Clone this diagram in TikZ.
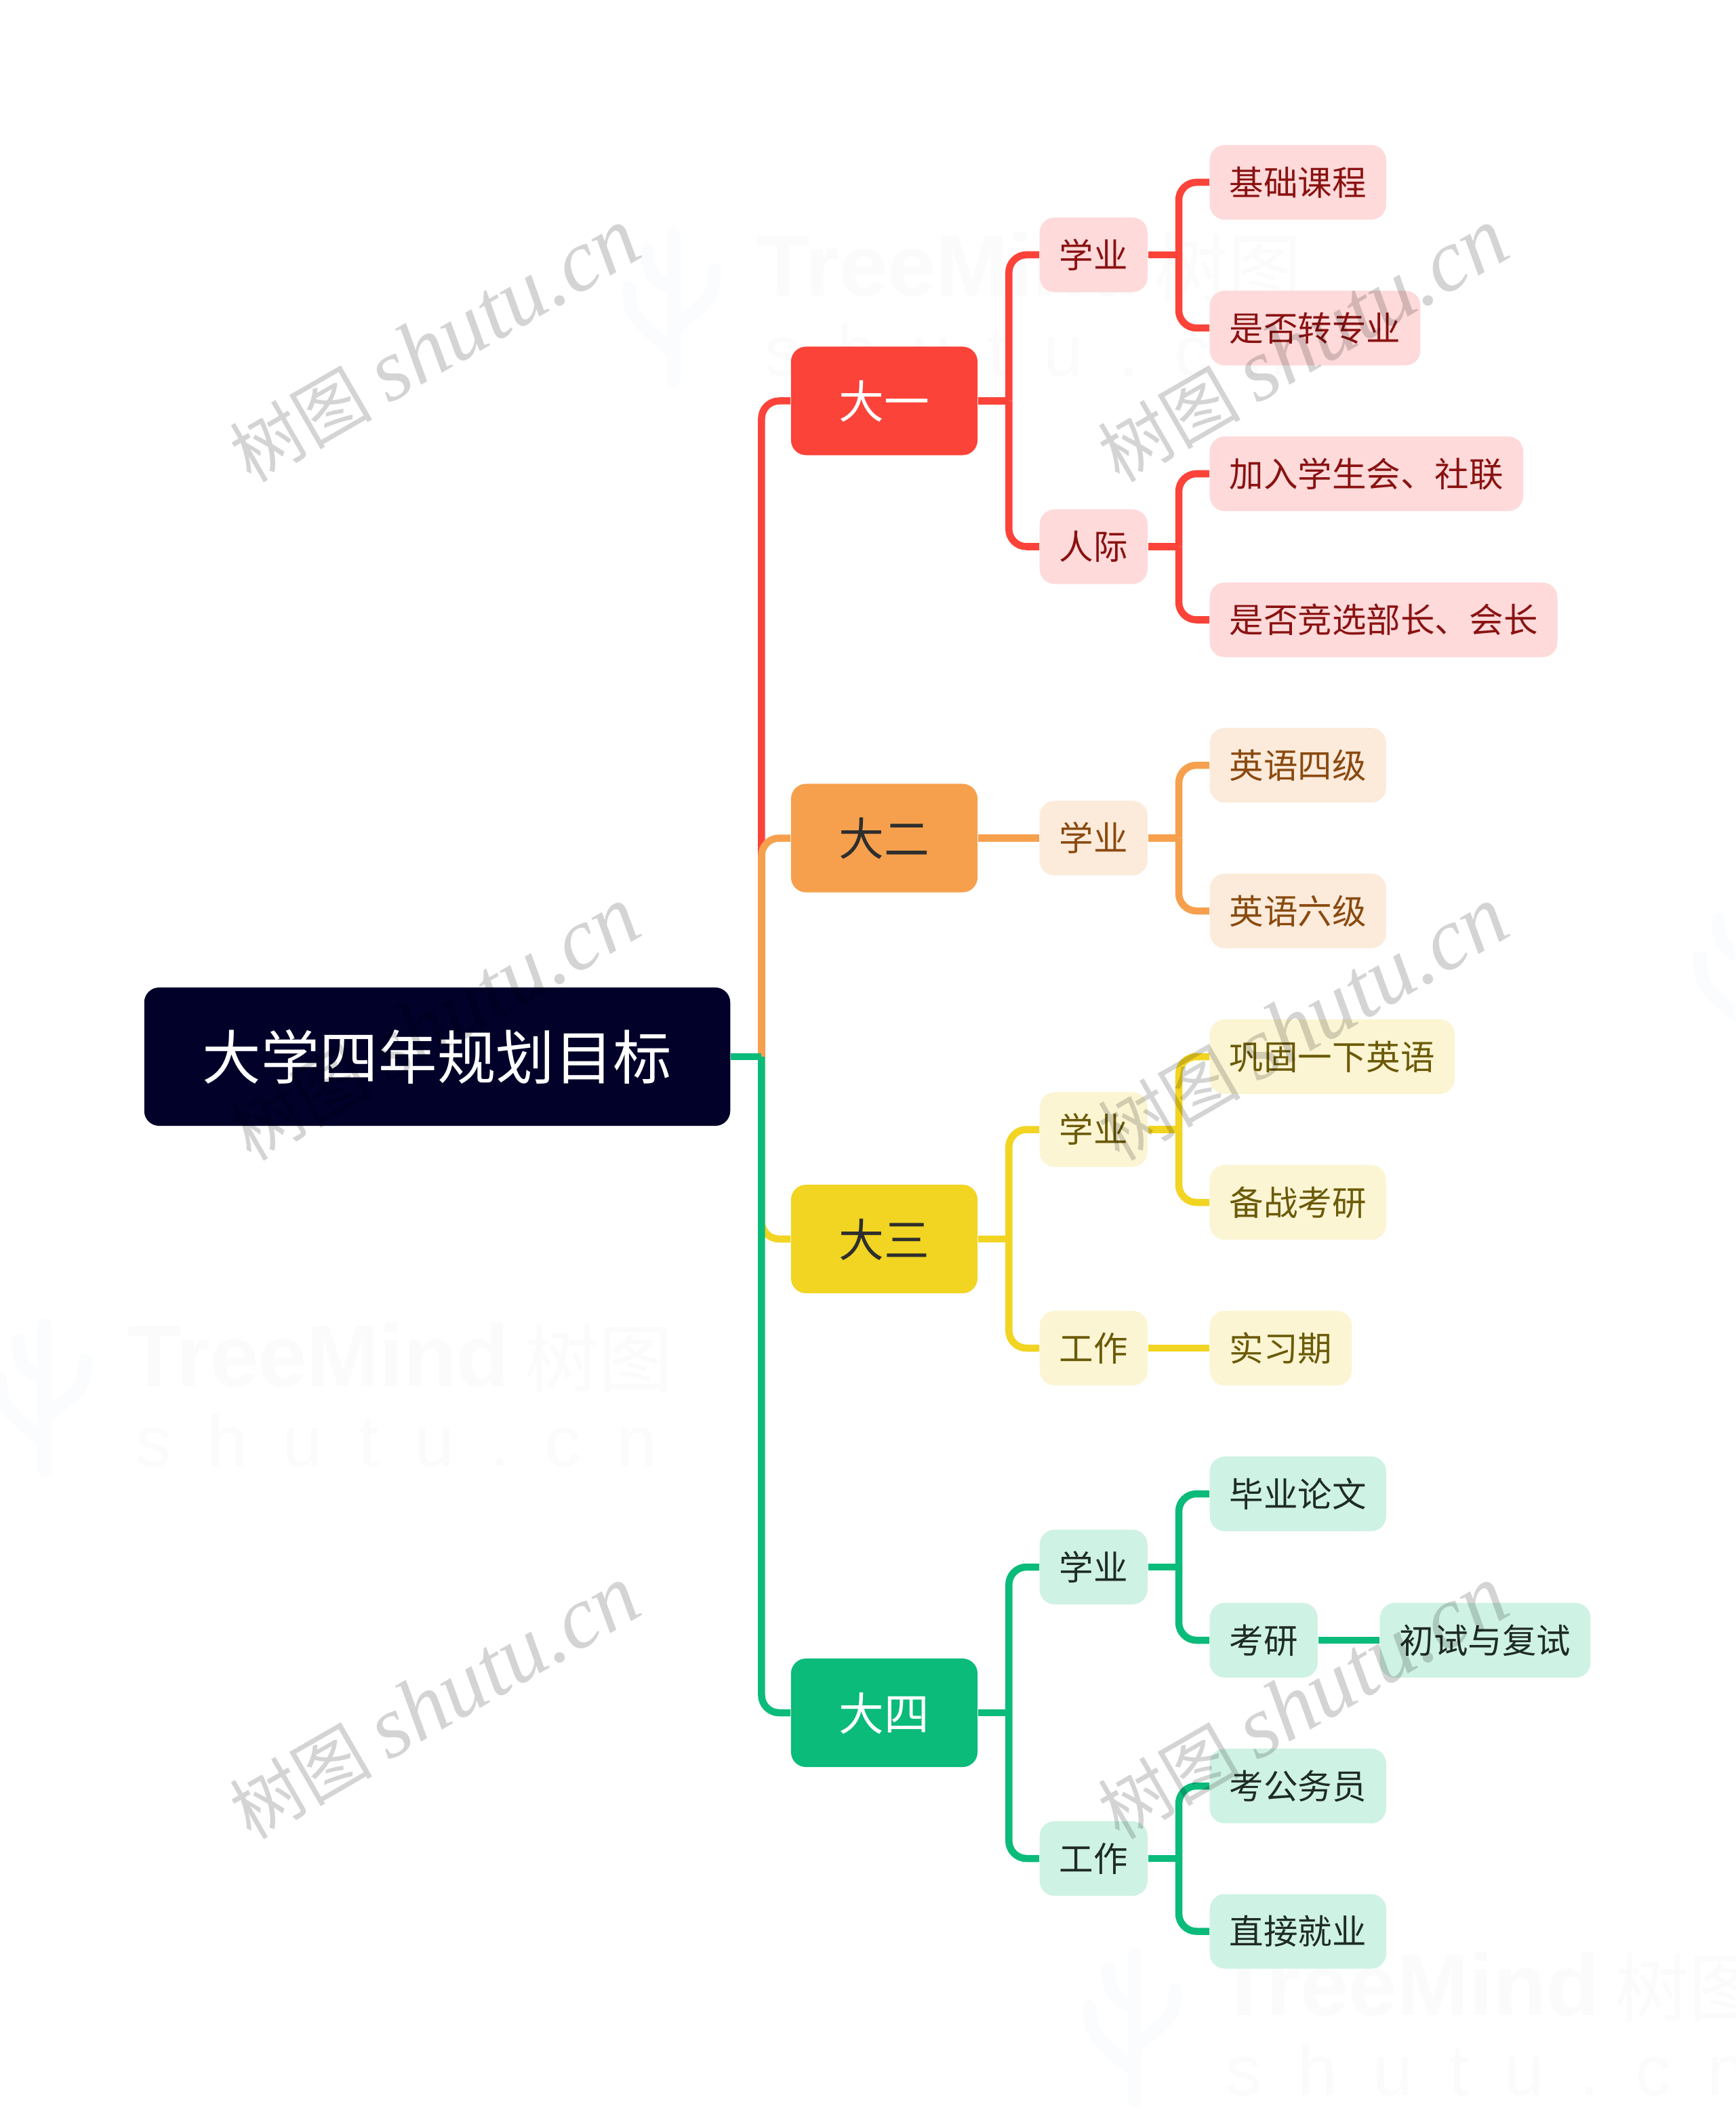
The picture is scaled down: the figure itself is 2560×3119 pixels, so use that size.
\documentclass[tikz,border=0pt]{standalone}
\usepackage{fontspec}
\usepackage{xcolor}
\setmainfont{Noto Sans CJK SC}
\newfontfamily\marksans{Liberation Sans}
\newfontfamily\markserif{Liberation Serif}
\usetikzlibrary{positioning,calc}

\definecolor{rootnavy}{HTML}{01012A}
\definecolor{redline}{HTML}{FB4339}
\definecolor{redsoft}{HTML}{FEDADA}
\definecolor{redtext}{HTML}{8A1212}
\definecolor{orangeline}{HTML}{F6A04D}
\definecolor{orangesoft}{HTML}{FCEBDB}
\definecolor{orangetext}{HTML}{8A4A10}
\definecolor{yellowline}{HTML}{F2D422}
\definecolor{yellowsoft}{HTML}{FCF5D3}
\definecolor{yellowtext}{HTML}{6B5A08}
\definecolor{greenline}{HTML}{0ABB7A}
\definecolor{greensoft}{HTML}{CEF2E3}
\definecolor{greentext}{HTML}{1E2B26}
\definecolor{darktext}{HTML}{2E2E2E}
\definecolor{marktext}{HTML}{FBFBFB}
\definecolor{marklogo}{HTML}{FBFCFE}

\tikzset{
    rootnode/.style={fill=rootnavy, text=white, rounded corners=0.22cm, inner sep=0pt,
        minimum width=8.64cm, minimum height=2.04cm, text height=0.765cm, text depth=0.105cm,
        font=\fontsize{24.6}{28}\selectfont},
    yearnode/.style 2 args={fill=#1, text=#2, rounded corners=0.22cm, inner sep=0pt,
        minimum width=2.75cm, minimum height=1.6cm, text height=0.6cm, text depth=0.08cm,
        font=\fontsize{19}{22}\selectfont},
    itemnode/.style 2 args={fill=#1, text=#2, rounded corners=0.22cm, inner ysep=0pt, inner xsep=0.29cm,
        minimum height=1.1cm, text height=0.444cm, text depth=0.06cm,
        font=\fontsize{14.37}{17}\selectfont},
    link/.style={draw=#1, line width=0.105cm},
    faintbig/.style={text=marktext, inner sep=0pt, anchor=base west},
    greymark/.style={text=black, text opacity=0.17, rotate=30, inner sep=0pt}
}

\begin{document}
\begin{tikzpicture}[x=0.01cm, y=-0.01cm]
    \useasboundingbox (0,0) rectangle (2560,3119);
    \fill[white] (0,0) rectangle (2560,3119);

    % Pale logo marks behind the map
    \begin{scope}
    \clip (0,0) rectangle (2560,3119);
    \foreach \ax/\ay in {188/1945, 1116/337, 1796/2873, 2696/1325} {
        \begin{scope}[shift={(\ax,\ay)}, draw=marklogo, line width=0.2cm, line cap=round]
            \draw (-122,10) -- (-122,225);
            \draw (-122,148) .. controls (-90,115) and (-62,115) .. (-62,62);
            \draw (-122,182) .. controls (-175,140) and (-188,130) .. (-188,88);
            \draw (-122,88) .. controls (-150,78) and (-161,68) .. (-161,32);
        \end{scope}
    }
    \foreach \ax/\ay [count=\i] in {188/2045, 1116/437, 1796/2973} {
        \node[faintbig, font=\marksans\bfseries\fontsize{36.5}{40}\selectfont] (treemark\i) at (\ax,\ay) {TreeMind};
        \node[faintbig, font=\fontsize{31}{34}\selectfont] (treecn\i) at ($(\ax,\ay)+(586,0)$) {树图};
        \node[faintbig, font=\marksans\fontsize{30}{34}\selectfont\addfontfeature{LetterSpace=50}] (treeurl\i) at ($(\ax,\ay)+(12,118)$) {shutu.cn};
    }
    \end{scope}

    % Root and first level
    \node[rootnode] (root) at (645,1559) {大学四年规划目标};
    \node[yearnode={redline}{white}] (yr1) at (1304.5,591.5) {大一};
    \node[yearnode={orangeline}{darktext}] (yr2) at (1304.5,1236.5) {大二};
    \node[yearnode={yellowline}{darktext}] (yr3) at (1304.5,1828) {大三};
    \node[yearnode={greenline}{white}] (yr4) at (1304.5,2527) {大四};

    % Second level
    \node[itemnode={redsoft}{redtext}, anchor=west] (study1) at (1533,376) {学业};
    \node[itemnode={redsoft}{redtext}, anchor=west] (people1) at (1533,806.5) {人际};
    \node[itemnode={orangesoft}{orangetext}, anchor=west] (study2) at (1533,1236.5) {学业};
    \node[itemnode={yellowsoft}{yellowtext}, anchor=west] (study3) at (1533,1666.5) {学业};
    \node[itemnode={yellowsoft}{yellowtext}, anchor=west] (work3) at (1533,1989) {工作};
    \node[itemnode={greensoft}{greentext}, anchor=west] (study4) at (1533,2312) {学业};
    \node[itemnode={greensoft}{greentext}, anchor=west] (work4) at (1533,2742) {工作};

    % Leaves
    \node[itemnode={redsoft}{redtext}, anchor=west] (basic) at (1784,269) {基础课程};
    \node[itemnode={redsoft}{redtext}, anchor=west] (major) at (1784,484) {是否转专业};
    \node[itemnode={redsoft}{redtext}, anchor=west] (union) at (1784,699) {加入学生会、社联};
    \node[itemnode={redsoft}{redtext}, anchor=west] (leader) at (1784,914.5) {是否竞选部长、会长};
    \node[itemnode={orangesoft}{orangetext}, anchor=west] (cet4) at (1784,1129) {英语四级};
    \node[itemnode={orangesoft}{orangetext}, anchor=west] (cet6) at (1784,1344) {英语六级};
    \node[itemnode={yellowsoft}{yellowtext}, anchor=west] (review) at (1784,1559) {巩固一下英语};
    \node[itemnode={yellowsoft}{yellowtext}, anchor=west] (prepare) at (1784,1774) {备战考研};
    \node[itemnode={yellowsoft}{yellowtext}, anchor=west] (intern) at (1784,1989) {实习期};
    \node[itemnode={greensoft}{greentext}, anchor=west] (thesis) at (1784,2204) {毕业论文};
    \node[itemnode={greensoft}{greentext}, anchor=west] (exam) at (1784,2420) {考研};
    \node[itemnode={greensoft}{greentext}, anchor=west] (retest) at (2035,2420) {初试与复试};
    \node[itemnode={greensoft}{greentext}, anchor=west] (civil) at (1784,2635) {考公务员};
    \node[itemnode={greensoft}{greentext}, anchor=west] (employ) at (1784,2849.5) {直接就业};

    % Elbow connectors, colour order matters on the main trunk
    \foreach \from/\to/\col in {root/yr1/redline, root/yr2/orangeline, root/yr3/yellowline, root/yr4/greenline,
        yr1/study1/redline, yr1/people1/redline, study1/basic/redline, study1/major/redline,
        people1/union/redline, people1/leader/redline, study2/cet4/orangeline, study2/cet6/orangeline,
        yr3/study3/yellowline, yr3/work3/yellowline, study3/review/yellowline, study3/prepare/yellowline,
        yr4/study4/greenline, yr4/work4/greenline, study4/thesis/greenline, study4/exam/greenline,
        work4/civil/greenline, work4/employ/greenline} {
        \draw[link=\col] (\from.east) -- ++(45.5,0) coordinate (joint);
        \draw[link=\col, rounded corners=0.26cm] (joint) |- (\to.west);
    }

    % Straight connectors
    \draw[link=orangeline] (yr2.east) -- (study2.west);
    \draw[link=yellowline] (work3.east) -- (intern.west);
    \draw[link=greenline] (exam.east) -- (retest.west);

    % Grey marks lie over everything
    \foreach \mx/\my [count=\i] in {641/510, 1922/510, 641/1511, 1922/1511, 641/2512, 1922/2512} {
        \node[greymark] (wm\i) at (\mx,\my) {\fontsize{30}{34}\selectfont 树图\ \markserif\itshape\fontsize{37}{41}\selectfont shutu.cn};
    }
\end{tikzpicture}
\end{document}
